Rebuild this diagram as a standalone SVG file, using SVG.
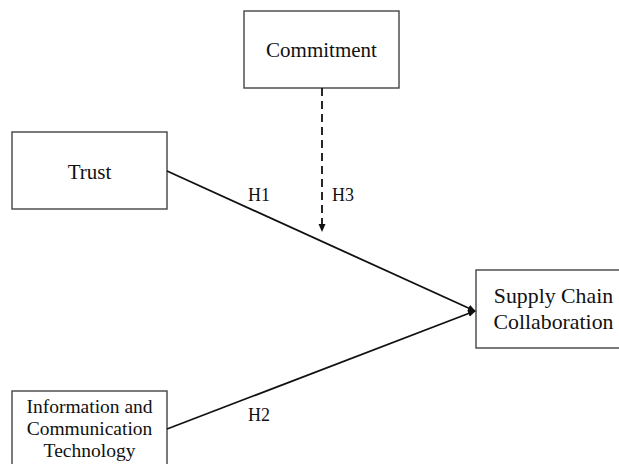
<svg xmlns="http://www.w3.org/2000/svg" width="619" height="464" viewBox="0 0 619 464">
<style>
.box{fill:#fff;stroke:#444;stroke-width:1.4}
.t{font-family:"Liberation Serif","Times New Roman",serif;font-size:21px;fill:#111;text-anchor:middle}
.s{font-size:19.5px}
.l{font-size:21.8px}
.h{font-family:"Liberation Serif","Times New Roman",serif;font-size:18px;fill:#111}
.c{stroke:#111;stroke-width:1.8;fill:none}
</style>
<defs>
<marker id="ah" markerWidth="8" markerHeight="8" refX="7" refY="4" orient="auto" markerUnits="userSpaceOnUse">
<path d="M0,0.5 L8,4 L0,7.5 Z" fill="#111"/>
</marker>
</defs>
<rect width="619" height="464" fill="#fff"/>
<g id="commitment">
<rect class="box" x="244" y="11" width="155" height="77"/>
<text class="t" x="321.5" y="57">Commitment</text>
</g>
<g id="trust">
<rect class="box" x="12" y="132" width="155" height="77"/>
<text class="t" x="89.5" y="179">Trust</text>
</g>
<g id="ict">
<rect class="box" x="12" y="391" width="155" height="80"/>
<text class="t s" x="89.5" y="413">Information and</text>
<text class="t s" x="89.5" y="435">Communication</text>
<text class="t s" x="89.5" y="457">Technology</text>
</g>
<g id="scc">
<rect class="box" x="476" y="270" width="160" height="78"/>
<text class="t l" x="553.5" y="303">Supply Chain</text>
<text class="t l" x="553.5" y="329">Collaboration</text>
</g>
<g id="connectors">
<line class="c" x1="167" y1="171" x2="475" y2="311" marker-end="url(#ah)"/>
<line class="c" x1="167" y1="429" x2="475" y2="311" marker-end="url(#ah)"/>
<line class="c" x1="322" y1="88" x2="322" y2="231" stroke-dasharray="8,5" marker-end="url(#ah)"/>
<text class="h" x="248" y="201">H1</text>
<text class="h" x="332" y="201">H3</text>
<text class="h" x="248" y="421">H2</text>
</g>
</svg>
